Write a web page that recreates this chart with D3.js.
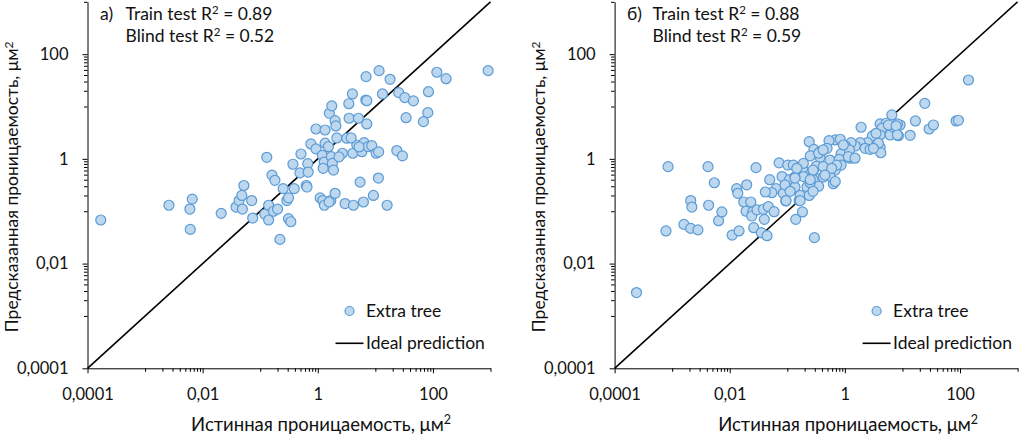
<!DOCTYPE html>
<html>
  <head>
    <meta charset="UTF-8" />
    <script src="https://d3js.org/d3.v7.min.js"></script>
    <style>
      body { margin: 0; background: #fff; }
      text { font-family: Lato, "Open Sans", sans-serif; fill: #111; }
    </style>
  </head>
  <body>
    <svg width="1023" height="437"></svg>

    <script>
      // panel а) values, µm²
      const trueA = [
        0.00017, 0.0026, 0.0066, 0.006, 0.0061, 0.021, 0.038, 0.043, 0.048, 0.052,
        0.049, 0.071, 0.074, 0.13, 0.12, 0.14, 0.14, 0.16, 0.18, 0.17,
        0.2, 0.22, 0.25, 0.29, 0.31, 0.31, 0.34, 0.37, 0.39, 0.51,
        0.49, 0.67, 0.68, 0.63, 0.65, 0.76, 0.93, 0.93, 1.1, 1.2,
        1.22, 1.3, 1.29, 1.24, 1.34, 1.34, 1.53, 1.59, 1.75, 1.68,
        1.72, 1.79, 1.87, 2.0, 2.0, 2.06, 2.14, 2.67, 2.98, 3.19,
        3.46, 3.5, 3.99, 4.06, 4.16, 4.76, 5.08, 5.43, 5.82, 6.2,
        6.37, 6.82, 7.1, 7.1, 6.9, 7.48, 8.67, 9.25, 10.3, 11.3,
        11.4, 11.6, 13.3, 16, 18, 23.6, 25.5, 29.5, 32.5, 34.2,
        45.8, 68.4, 81.5, 83.6, 117, 169, 910, 2.34, 3.79, 5.22, 1.57
      ];
      const predA = [
        0.068, 0.13, 0.17, 0.11, 0.045, 0.091, 0.12, 0.16, 0.2, 0.31,
        0.11, 0.16, 0.074, 1.07, 0.088, 0.068, 0.13, 0.49, 0.39, 0.1,
        0.11, 0.029, 0.27, 0.16, 0.18, 0.072, 0.063, 0.79, 0.27, 1.24,
        0.54, 0.81, 0.56, 0.31, 0.29, 1.93, 3.72, 1.55, 0.18, 1.17,
        0.16, 0.13, 0.87, 0.66, 3.56, 1.99, 1.71, 7.43, 10.3, 0.16,
        1.1, 0.82, 0.61, 0.22, 5.37, 4.25, 2.51, 1.28, 0.14, 2.48,
        11.3, 5.97, 17.4, 1.28, 0.13, 1.84, 5.97, 0.36, 1.37, 0.15,
        2.04, 13.3, 4.64, 12.9, 37.2, 1.71, 1.79, 0.2, 1.28, 0.43,
        1.36, 48.4, 17.4, 0.13, 33.1, 1.44, 18.4, 1.14, 14.8, 6.12,
        12.8, 5.14, 7.63, 19.2, 45.1, 34, 48.4, 1.09, 2.51, 1.69, 0.15
      ];

      // panel б) values, µm²
      const trueB = [
        0.00024, 0.00085, 0.00078, 0.0016, 0.0021, 0.0022, 0.0021, 0.0028, 0.0042, 0.0043,
        0.0054, 0.0064, 0.0073, 0.011, 0.0145, 0.0132, 0.0138, 0.0197, 0.0286, 0.0175,
        0.0232, 0.0192, 0.0251, 0.0241, 0.0298, 0.0384, 0.0469, 0.0589, 0.0399, 0.0261,
        0.0354, 0.0445, 0.0495, 0.0719, 0.102, 0.081, 0.109, 0.0637, 0.0537, 0.0416,
        0.0853, 0.094, 0.129, 0.14, 0.16, 0.183, 0.295, 0.63, 140, 24.4,
        6.53, 16.8, 13.6, 29, 34.5, 85.5, 93.8, 9.1, 6.97, 8.5,
        6.1, 1.91, 4.09, 5.2, 6.97, 8.17, 4.38, 3.0, 4.09, 4.09,
        4.21, 2.46, 1.84, 1.52, 1.28, 1.02, 0.68, 0.53, 0.24, 0.29,
        0.49, 0.86, 1.2, 2.24, 2.74, 0.37, 0.25, 0.37, 0.55, 0.8,
        1.23, 0.86, 0.68, 0.55, 0.45, 0.32, 0.28, 0.185, 0.127, 0.19,
        0.28, 0.42, 0.136, 0.091, 0.22, 0.35, 0.25, 0.167, 0.24, 0.28,
        0.095, 0.167, 0.112, 0.135, 0.83, 3.48, 3.82, 5.7, 7.76, 8.17,
        0.35, 0.42, 0.72, 1.15, 1.5, 0.94, 3.13, 0.19, 0.28, 0.42,
        0.59, 0.68, 0.45, 0.136, 0.25, 0.146
      ];
      const predB = [
        0.0028, 0.71, 0.042, 0.056, 0.16, 0.12, 0.047, 0.044, 0.71, 0.13,
        0.35, 0.066, 0.097, 0.035, 0.042, 0.27, 0.22, 0.32, 0.68, 0.15,
        0.15, 0.1, 0.097, 0.081, 0.106, 0.109, 0.122, 0.098, 0.07, 0.0485,
        0.0389, 0.0341, 0.4, 0.84, 0.76, 0.46, 0.4, 0.27, 0.226, 0.233,
        0.22, 0.157, 0.278, 0.07, 0.16, 0.097, 0.0313, 0.336, 32.1, 11.5,
        6.9, 5.3, 2.82, 3.72, 4.44, 5.3, 5.46, 4.44, 3.56, 2.77,
        2.86, 4.02, 4.64, 4.79, 4.02, 4.64, 3.84, 2.74, 2.86, 1.67,
        1.31, 2.04, 2.04, 1.76, 2.04, 1.76, 2.3, 2.23, 2.13, 1.52,
        1.59, 1.24, 1.48, 1.59, 1.52, 1.37, 1.14, 1.07, 0.95, 0.98,
        1.03, 0.76, 0.61, 0.47, 0.66, 0.73, 0.57, 0.66, 0.76, 0.46,
        0.4, 0.45, 0.29, 0.32, 0.29, 0.3, 0.35, 0.2, 0.2, 0.24,
        0.16, 0.16, 0.24, 0.45, 2.37, 3.08, 1.99, 4.44, 4.25, 2.86,
        1.28, 1.48, 0.76, 1.1, 1.03, 1.84, 1.59, 0.82, 0.61, 0.71,
        0.66, 0.37, 0.49, 0.43, 0.4, 0.66
      ];

      const majorTicks = [0.0001, 0.01, 1, 100];
      const tickLabels = ["0,0001", "0,01", "1", "100"];
      const minorTicks = [
        0.001, 0.002, 0.003, 0.004, 0.005, 0.006, 0.007, 0.008, 0.009,
        0.1, 0.2, 0.3, 0.4, 0.5, 0.6, 0.7, 0.8, 0.9,
        10, 20, 30, 40, 50, 60, 70, 80, 90, 1000
      ];

      const panels = [
        { left: 87.5, tag: "а)", train: "0.89", blind: "0.52", xs: trueA, ys: predA },
        { left: 614.6, tag: "б)", train: "0.88", blind: "0.59", xs: trueB, ys: predB }
      ];

      const w = 403, h = 366.5, plotTop = 1.8;
      const svg = d3.select("svg");

      const x = d3.scaleLog().domain([0.0001, 1000]).range([0, w]);
      const y = d3.scaleLog().domain([0.0001, 1000]).range([h, 0]);

      function rSquared(g, xPos, yPos, label, value) {
        const t = g.append("text").attr("x", xPos).attr("y", yPos).style("font-size", "17.5px");
        t.append("tspan").text(label + " R");
        t.append("tspan").attr("dy", -6).style("font-size", "11.5px").text("2");
        t.append("tspan").attr("dy", 6).text(" = " + value);
      }

      panels.forEach(function (p) {
        const g = svg.append("g").attr("transform", "translate(" + p.left + "," + plotTop + ")");

        // axes
        const xAxis = d3.axisBottom(x).tickValues(majorTicks).tickSize(5).tickPadding(15)
          .tickSizeOuter(0).tickFormat(function (d, i) { return tickLabels[i]; });
        const yAxis = d3.axisLeft(y).tickValues(majorTicks).tickSize(5).tickPadding(14)
          .tickSizeOuter(0).tickFormat(function (d, i) { return tickLabels[i]; });
        const gx = g.append("g").attr("transform", "translate(0," + h + ")").call(xAxis);
        const gy = g.append("g").call(yAxis);
        g.append("g").attr("transform", "translate(0," + h + ")")
          .call(d3.axisBottom(x).tickValues(minorTicks).tickSize(3.5).tickFormat(""))
          .select(".domain").remove();
        g.append("g")
          .call(d3.axisLeft(y).tickValues(minorTicks).tickSize(3.5).tickFormat(""))
          .select(".domain").remove();
        g.selectAll(".domain, .tick line").attr("stroke", "#000").attr("stroke-width", 1);
        gx.selectAll("text").style("font-size", "16.5px").style("font-family", "Lato").attr("fill", "#111");
        gy.selectAll("text").style("font-size", "16.5px").style("font-family", "Lato").attr("fill", "#111");

        // ideal prediction
        g.append("line")
          .attr("x1", x(0.0001)).attr("y1", y(0.0001))
          .attr("x2", x(1000)).attr("y2", y(1000))
          .attr("stroke", "#000").attr("stroke-width", 1.6);

        // points
        g.append("g").selectAll("circle")
          .data(p.xs.map(function (v, i) { return [v, p.ys[i]]; }))
          .enter()
          .append("circle")
          .attr("cx", function (d) { return x(d[0]); })
          .attr("cy", function (d) { return y(d[1]); })
          .attr("r", 5)
          .attr("fill", "#bdd7ee")
          .attr("stroke", "#5b9bd5")
          .attr("stroke-width", 1.2);

        // annotation
        g.append("text").attr("x", 12.5).attr("y", 18.3).style("font-size", "17.5px").text(p.tag);
        rSquared(g, 38, 18.3, "Train test", p.train);
        rSquared(g, 38, 40.7, "Blind test", p.blind);

        // legend
        g.append("circle").attr("cx", 262).attr("cy", 309.2).attr("r", 4.5)
          .attr("fill", "#bdd7ee").attr("stroke", "#5b9bd5").attr("stroke-width", 1.2);
        g.append("text").attr("x", 278.5).attr("y", 315).style("font-size", "17.5px").text("Extra tree");
        g.append("line").attr("x1", 248).attr("x2", 276).attr("y1", 341.5).attr("y2", 341.5)
          .attr("stroke", "#000").attr("stroke-width", 1.6);
        g.append("text").attr("x", 278.5).attr("y", 347.3).style("font-size", "17.5px").text("Ideal prediction");

        // axis titles
        const xt = g.append("text").attr("x", 233.5).attr("y", 429.5)
          .attr("text-anchor", "middle").style("font-size", "18.5px");
        xt.append("tspan").text("Истинная проницаемость, μм");
        xt.append("tspan").attr("dy", -7).style("font-size", "12.5px").text("2");

        const yt = g.append("text")
          .attr("transform", "translate(-69.5,185) rotate(-90)")
          .attr("text-anchor", "middle").style("font-size", "17.5px");
        yt.append("tspan").text("Предсказанная проницаемость, μм");
        yt.append("tspan").attr("dy", -5).style("font-size", "12px").text("2");
      });
    </script>
  </body>
</html>
